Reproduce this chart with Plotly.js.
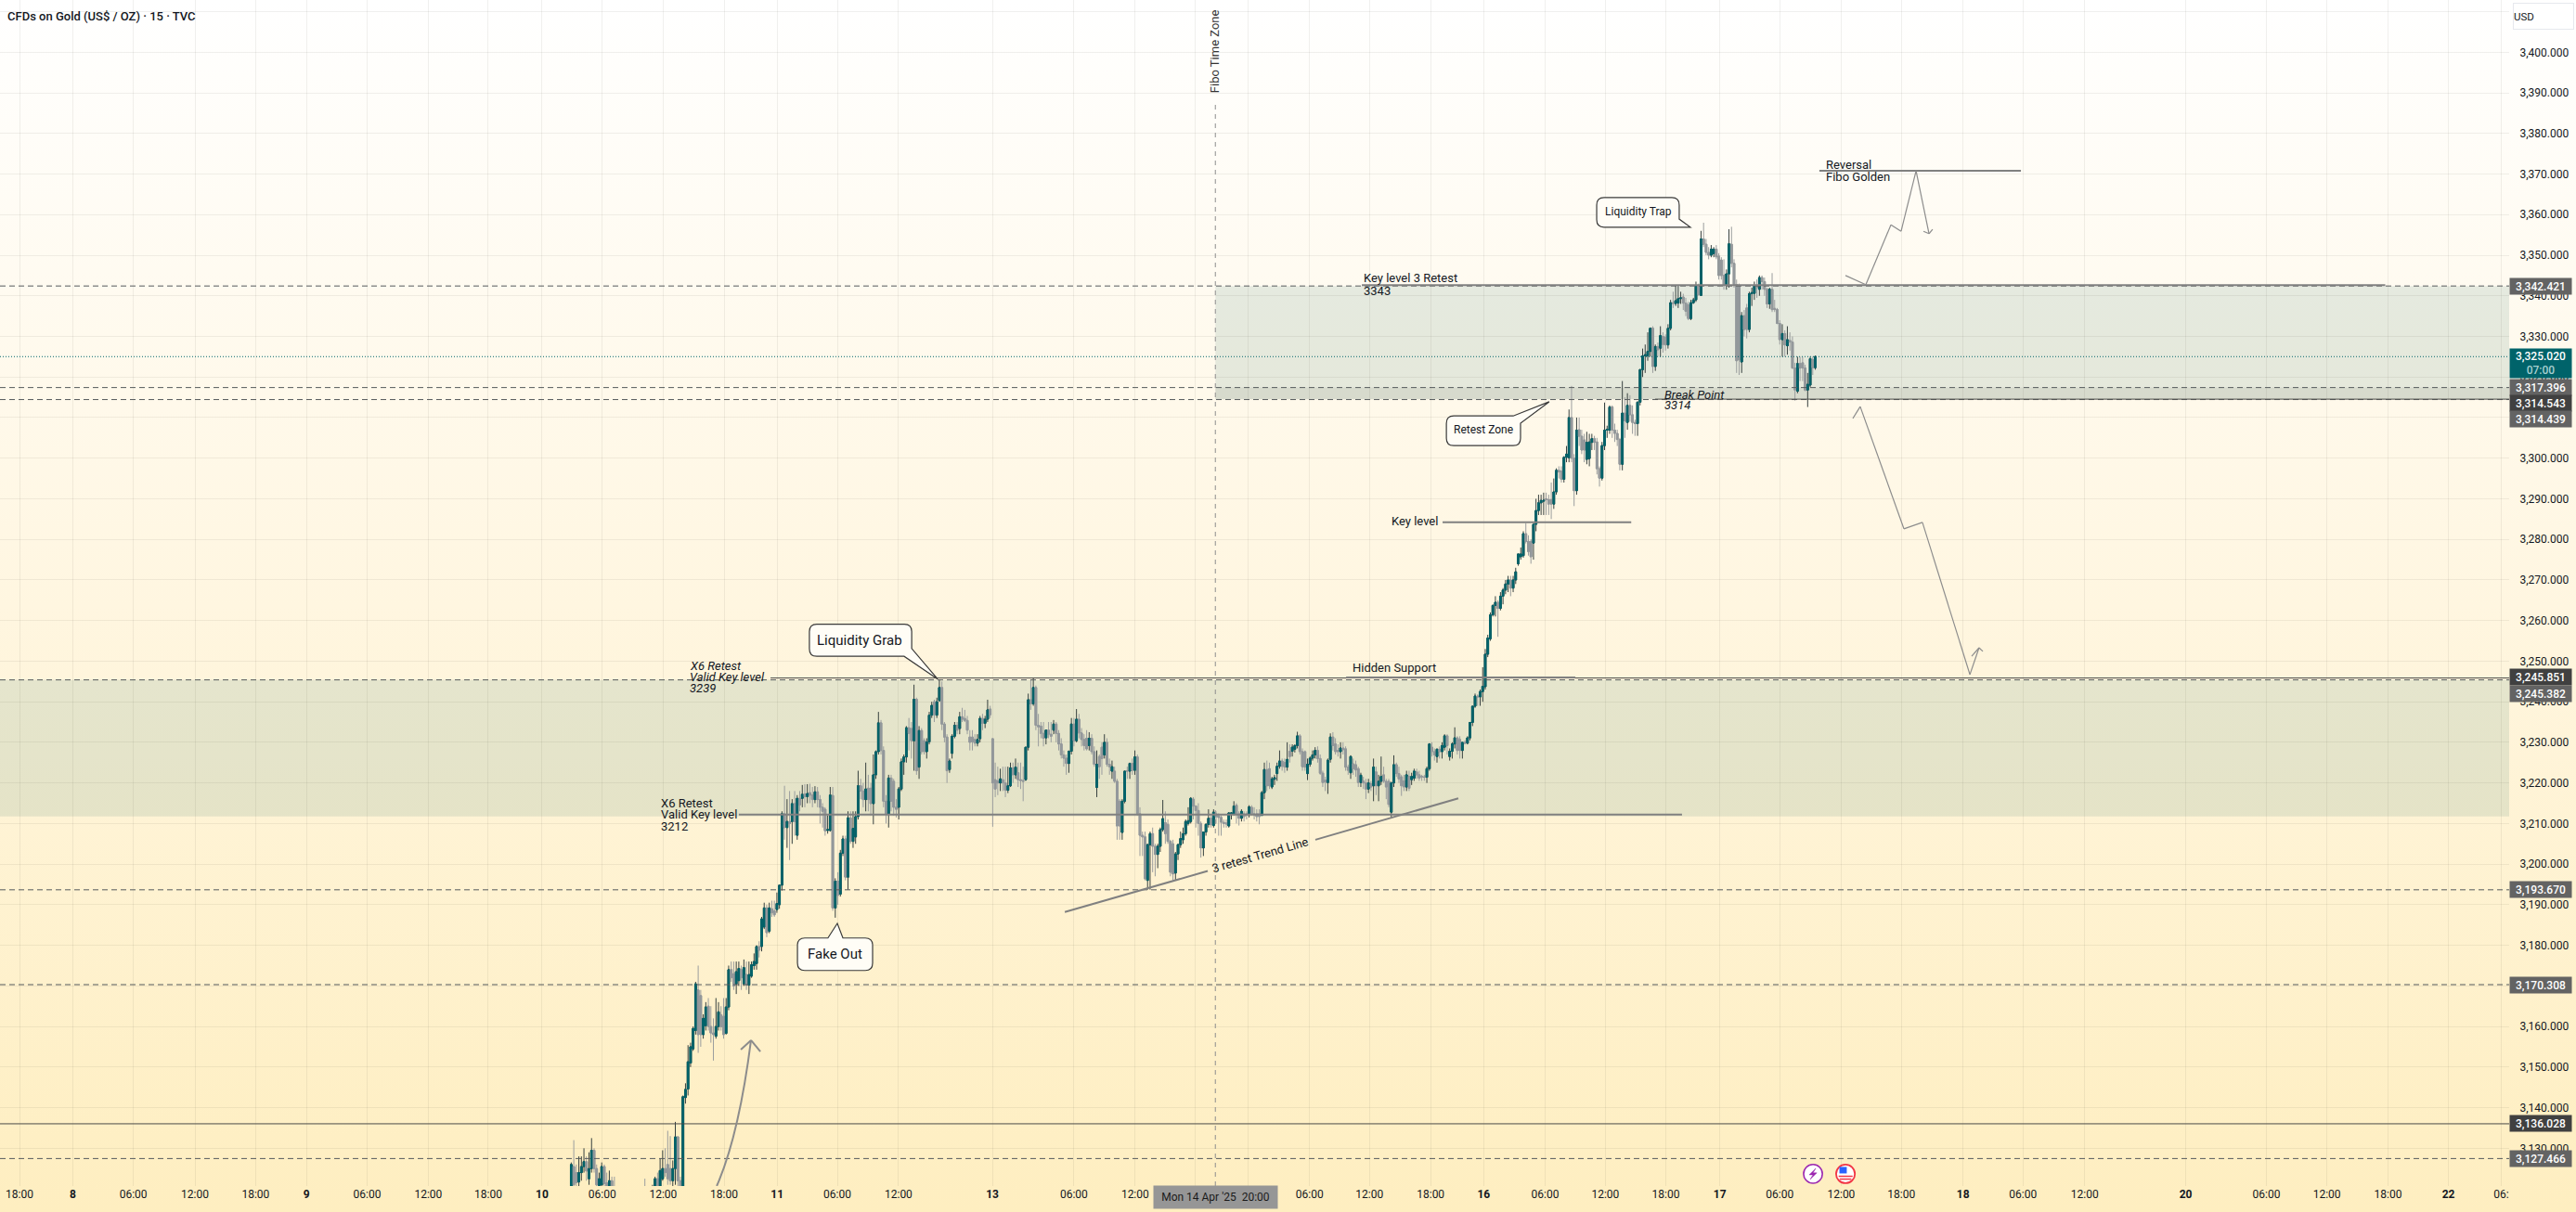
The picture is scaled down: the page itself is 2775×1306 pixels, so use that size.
<!DOCTYPE html>
<html><head><meta charset="utf-8">
<script src="https://cdn.plot.ly/plotly-3.0.1.min.js"></script>
<style>html,body{margin:0;padding:0;width:2775px;height:1306px;overflow:hidden;background:linear-gradient(180deg,#ffffff 0%,#fff6e0 50%,#feeec0 100%);}</style>
</head><body><div id="chart" style="width:2775px;height:1306px"></div>
<script>
// ---- candles: rows are [open, high, low, close]; x is the 15-minute bar number
const apr10Start = 225;
const apr10 = [[3119,3126.5,3118,3126],[3125.5,3132,3120,3121],[3124,3126,3119,3121.5],[3121.7,3128,3120,3124],[3124,3128,3122,3125.5],[3125.5,3130,3124,3126.7],[3126.7,3128,3122,3124.4],[3122.5,3129,3121,3125],[3125,3132.5,3124,3129.5],[3129.5,3130,3124,3125],[3125,3126,3120,3121],[3120,3124,3119,3122.5],[3121,3126.5,3120,3125.5],[3125.5,3126,3120,3121.3],[3121.5,3124,3119,3120],[3119.5,3124.5,3118,3122],[3122,3123,3118,3119.5],[3120,3123,3117,3118]];
const apr10NoonStart = 254;
const apr10Noon = [[3120,3122.5,3118,3119],[3120,3120.5,3118,3119],[3120,3120.5,3118,3119],[3119,3121,3118,3120.3],[3120,3123,3119,3122.5],[3122.5,3124,3119,3120],[3120,3127.5,3119,3124.5],[3122.5,3129.5,3122,3125],[3125,3130,3123,3124],[3126,3134.3,3121,3122.5],[3125,3133,3121,3122],[3122,3127,3120,3125],[3125,3136.5,3121,3132.8],[3132.8,3133,3120,3122],[3122,3123,3117,3119]];
const apr10RallyStart = 269;
const apr10Rally = [[3118,3143,3117,3142.7],[3142.5,3146,3141,3144.5],[3144.6,3155.4,3143,3151.3],[3151,3156,3150,3155],[3154.5,3160,3154,3159.5],[3159,3171,3158,3170.5],[3169,3175,3153.5,3158],[3167.6,3169,3155,3158],[3158,3163,3157,3162],[3160.2,3166,3159,3164.8],[3165,3167,3159,3160],[3160,3165,3156,3158.4],[3158.4,3162,3151.6,3158],[3157.6,3167,3157,3160],[3160,3166,3159,3163.6],[3162.9,3165,3159,3159.9],[3162.5,3167,3157,3158],[3158.3,3167,3158,3164.8]];
const apr10LateStart = 287;
const apr10Late = [[3164.8,3175,3164,3174],[3174,3176,3171,3172],[3173,3176,3169,3170],[3170.5,3176,3168,3173.5],[3171.3,3176,3170,3174.3],[3174,3175,3169,3172],[3170.5,3176.5,3170,3174.5],[3172.8,3176,3169,3170.2],[3170.2,3176,3168,3172.8],[3172.4,3176,3172,3175.2],[3175,3178,3174,3176],[3175.5,3180,3174,3179.7],[3179.7,3181,3177,3178.8],[3179.7,3187,3178.5,3186.5],[3184.5,3190.5,3184,3189.2],[3189.2,3190,3182,3183.1],[3183.5,3190.5,3183,3189.2],[3189,3191,3187,3188],[3188.5,3191,3187,3187.5],[3188.8,3193,3188,3190.3],[3190,3195,3189,3194.8]];
const apr11AStart = 308;
const apr11A = [[3194.8,3213,3193.5,3212.4],[3212.4,3219.3,3206,3209],[3209,3216,3204,3210.5],[3210.5,3218,3201,3210],[3210.5,3216,3205,3214.9],[3214.9,3218,3207,3210.5],[3207.1,3217,3206,3216.2],[3216.2,3218,3213,3214.6],[3216.2,3219.5,3214,3217.2],[3217.3,3219.7,3214,3216.6],[3216.6,3219.7,3215,3217.4],[3217.6,3219.8,3215,3217],[3217,3219,3214,3215.9],[3215.9,3219.2,3215,3217.8],[3217.8,3219,3214,3215.9],[3215.9,3217,3210,3214],[3214,3215,3209,3213],[3213.5,3214,3207,3208.2],[3208.3,3212,3207.5,3208.5]];
const apr11BStart = 327;
const apr11B = [[3208.3,3219,3208,3217],[3216.9,3219,3188.5,3189.2],[3189.2,3196.5,3186.8,3195.8],[3195.8,3198,3190,3192.3],[3192.6,3203.5,3192,3202.7],[3202.7,3207,3202,3206.2],[3206.2,3207,3196,3196.8],[3196.8,3213,3193.7,3211.4],[3211.4,3213,3205,3205.6],[3205.6,3213,3204,3208.8],[3206.7,3213,3205,3211.7],[3211.7,3223,3211,3219.3],[3219.3,3221,3216,3218],[3218,3220,3214,3215.9],[3215.9,3225,3213,3218.5],[3218.7,3222,3213,3215.9],[3218.7,3220,3212,3214.9],[3214.9,3227,3209.8,3222],[3222,3228,3221,3227.7],[3227.7,3237.5,3227,3234.8],[3234.8,3235.5,3227,3228],[3228,3229,3214,3215.5],[3215.5,3217,3210,3212.4],[3212.4,3222,3209,3221.2],[3221.2,3222,3213,3215.5],[3220.4,3221,3212,3214],[3214,3216,3211.5,3213.5],[3214,3219,3211,3218.5],[3218.5,3226,3218,3225.2],[3225.2,3227,3222,3226.4],[3226.4,3234,3225,3233.6],[3233.6,3236,3228,3232.2],[3233.4,3235,3226,3230.4]];
const apr11CStart = 360;
const apr11C = [[3230.4,3244.2,3223,3240.6],[3240.6,3241,3222,3223],[3223.9,3234,3221,3232.9],[3232.9,3233.5,3227,3227.7],[3230.4,3231,3227,3227.7],[3227.7,3231,3226,3230.1],[3230.1,3237.5,3229.5,3236.7],[3236.7,3240,3236,3239.1],[3240,3240.5,3235,3236.8],[3236.7,3241,3236,3240],[3240.3,3245.5,3240,3243.5],[3243.5,3245,3233,3234.5],[3234.5,3235,3230,3231.3],[3231.3,3232,3220,3223],[3223.3,3226,3222.5,3225.4],[3227.3,3232,3226,3231.5],[3231.5,3235,3231,3234.2],[3234.2,3235,3232,3233],[3233.4,3237.5,3232,3236.3],[3236.3,3238.5,3235,3235.7],[3235.9,3238,3235,3235.4],[3235.4,3236.5,3232,3233],[3231.3,3233,3228,3230],[3231.3,3233,3228,3230.1],[3230.7,3232,3229,3229.8],[3229.8,3232,3229,3230.7],[3230.9,3236.5,3230,3235.9],[3235.9,3237,3233,3234.7],[3234.7,3236.5,3233.5,3235.7],[3235.7,3240.5,3235,3238],[3238.2,3239,3236,3236.8]];
const apr13AStart = 391;
const apr13A = [[3230.9,3231,3209.2,3220],[3220.8,3225,3216.5,3218.5],[3220.5,3224,3217,3220],[3220,3223.5,3218,3221],[3220.8,3224,3218,3220],[3220,3224,3216.5,3218.2],[3218.2,3224,3217.5,3219.3],[3219.3,3225,3219,3223.7],[3223.7,3225,3220,3222],[3222,3226,3221,3223.9],[3222.5,3225,3219,3220.8],[3220.8,3225,3218.5,3220.6],[3220.6,3224,3215.5,3220.4],[3220.8,3228.8,3220.5,3228.8]];
const apr13BStart = 405;
const apr13B = [[3228.8,3242,3228,3240.5],[3240.5,3245.5,3238,3239.5],[3239.5,3245.9,3239,3243.5],[3243.5,3244,3233,3234.2],[3234.2,3237,3229,3233.8],[3234,3235,3231,3232.2],[3232.2,3235,3229,3231],[3231.1,3233,3229.5,3233],[3233,3235,3231,3232],[3232,3235,3230,3231.5],[3233,3235.5,3232,3234.5],[3234.5,3235,3230,3232.2],[3232.2,3233,3228,3229.6],[3229.6,3231,3226,3226.9],[3226.9,3228,3224,3226.1],[3226.1,3227,3222,3224.8],[3224.8,3228,3222.5,3227.8]];
const apr13CStart = 422;
const apr13C = [[3227.8,3236,3227,3234.5],[3234.5,3236,3229,3230.4],[3230.4,3238.2,3230,3235.7],[3235.7,3237,3231,3232.3],[3232.3,3233.5,3229,3230.7],[3230.7,3232,3228,3229.2],[3231,3233,3228,3228.4],[3229.2,3232.5,3228,3231],[3231,3232,3227,3227.7],[3227.7,3229,3224,3224.6],[3218.9,3228,3216.5,3224.6],[3226.5,3227,3221,3224],[3228.8,3230,3222,3226],[3226.9,3232,3226,3230],[3230,3231,3224,3224.6],[3224.6,3226,3222,3224],[3222.9,3225.5,3221,3224],[3222.9,3224,3220,3220.4],[3220.4,3221,3206,3209.4],[3215.5,3216,3206,3209.4],[3207.8,3216,3206,3215.5],[3215.5,3223,3215,3222.9],[3223,3224,3221,3222.9],[3222.9,3225,3221,3224.8],[3224.8,3226,3222,3223.1],[3223.1,3228,3222,3226.4]];
const apr13DStart = 448;
const apr13D = [[3226.4,3227,3212,3212.4],[3212.4,3214,3202,3207.1],[3207.1,3208,3202,3206.7],[3206.7,3208,3196,3196.4]];
const apr14Start = 452;
const apr14 = [[3196,3205,3193.7,3204.8],[3204.8,3208,3193.7,3207.5],[3207.5,3209,3198,3204.4],[3204.4,3205,3197,3202.4],[3202.4,3205,3199,3204.4],[3204.4,3209,3203,3208.5],[3208.5,3215.8,3208,3211.2],[3210.2,3213,3205,3207.5],[3209.8,3211,3205,3205.6],[3205.6,3206,3197,3198],[3205,3206,3196,3197.6],[3197.8,3203,3196,3202.5],[3202.5,3205,3201,3204.8],[3204.8,3208,3204,3206.3],[3206,3209,3205,3207.5],[3207.5,3211,3207,3210.5],[3210,3214,3209.5,3210.7],[3210.5,3216.5,3210,3216.2],[3216,3216.5,3211,3214.3],[3214.3,3214.5,3209,3213.2],[3213.2,3215,3207,3210],[3210,3210.5,3201.6,3204],[3204,3208,3202,3207.9],[3207.9,3210,3207,3209.8],[3209.8,3213.5,3209,3211.3],[3211.3,3212,3209,3209.7],[3209.5,3213.5,3209,3212.8],[3212.4,3213,3210,3211.7],[3211.9,3212.5,3207,3211.5],[3211.5,3212,3207,3210.3],[3210.3,3211,3209,3210],[3210.1,3211,3209,3209.9],[3209.4,3212.8,3209,3212.6],[3212.4,3212.8,3211,3212.6],[3212.4,3215.5,3212,3214.3],[3214.5,3215,3210,3212.4],[3212.4,3213,3209.5,3211.3],[3211.3,3213.5,3210.5,3213],[3212.4,3213,3210.5,3211.7],[3212.4,3213,3211,3212.2],[3212.2,3214.5,3211.5,3214.1],[3214,3214.5,3212,3212.4],[3212.4,3214,3211,3212.2],[3212.4,3213.5,3210.5,3211.7],[3212.4,3213.5,3209.8,3211.7],[3212,3218,3212,3217.6],[3217.6,3225,3216,3223.3],[3223.3,3225.5,3218,3219.3],[3223.5,3225,3218.5,3219.3],[3219,3221.5,3218.5,3221],[3220.9,3222,3219.5,3221.3],[3222.3,3225,3220.5,3224.1],[3224.1,3228,3223.5,3225.4],[3225.4,3226,3223,3224.1],[3225,3226,3222.5,3223.9],[3223.9,3230,3223,3225.8],[3227.8,3229.5,3225,3226.5],[3227.8,3229.5,3226.5,3228.8],[3228.3,3229.5,3227.5,3229.2],[3229.2,3232.6,3228.5,3231.6],[3231.6,3232,3227,3227.7],[3227.7,3228.5,3223,3224],[3227.7,3228,3223,3223.9],[3222.3,3226,3220.7,3224.6],[3224.6,3226.5,3224,3226.1],[3226.1,3228,3225.5,3226.9],[3226.9,3228.8,3226,3228],[3228,3229,3225,3226],[3226,3227,3222,3222.4],[3222.4,3223,3219,3220.1],[3220.7,3221.5,3218,3220.2],[3220.1,3226,3217.3,3225.6],[3225.8,3232.2,3225,3231.3],[3231.3,3232.5,3228,3229.2],[3229.6,3231,3227,3227.7],[3228,3229.5,3226.5,3227.7],[3227.7,3230,3226,3228.6],[3228.6,3230,3227,3228.2],[3228.4,3229,3223,3223.9],[3223.9,3224.5,3222,3223.1],[3222.5,3226.8,3221,3226.5],[3224.7,3226,3222,3223.5],[3224.5,3225.5,3221.5,3223.2],[3223.5,3224,3219,3220.1],[3220.1,3222.5,3219,3221.9],[3220.5,3221.5,3218.5,3220],[3220,3221,3216,3218.5],[3218.5,3221,3217.5,3220],[3219.8,3220.5,3218,3219],[3219.3,3226,3215.5,3223.9],[3222.7,3224,3217,3219.3],[3219.3,3222,3215.5,3220.4],[3220.4,3226.5,3219.5,3221.6],[3222,3224,3220,3220.4],[3220.4,3221,3216,3219],[3220.4,3221,3214,3214.7],[3212.8,3220.3,3211.5,3220],[3220,3226.8,3219,3224.5],[3224.5,3225,3221.5,3222.3],[3222.3,3224,3220,3221],[3221.5,3222,3216.8,3219.3],[3220.5,3222,3218,3219],[3219,3223,3218,3222],[3221.6,3223,3218,3218.7],[3220.8,3222.5,3219.5,3221.6],[3221.2,3223.5,3220.5,3222.9],[3222.7,3223.5,3221,3222],[3222,3223,3220.5,3221.2],[3221.6,3222,3220.5,3221.5],[3221.5,3222,3220.5,3221.4],[3221.4,3224,3220,3223.5],[3223.5,3229.8,3223,3229.6],[3228.8,3230,3226.5,3227.7],[3227.7,3228.5,3225.5,3226.9],[3226.5,3228.5,3225,3228.3],[3228.3,3229,3226,3227.7],[3227.7,3230,3226,3229.2],[3228.8,3232,3228,3231.6],[3231.6,3232,3227,3229.2],[3226.5,3228.5,3225.5,3227.8],[3227.8,3230,3226,3229.6],[3229.6,3233.7,3228.5,3231.1],[3231.1,3231.5,3227,3228],[3230.7,3231.5,3226,3228],[3228,3230,3226,3230],[3230,3230.5,3229.5,3229.8],[3229.8,3231.5,3229.5,3231.1],[3231.1,3235,3230.5,3234.9],[3234.9,3239,3234,3238.9],[3238.9,3242,3238.5,3241.4],[3241.4,3241.8,3239,3241.2],[3241.2,3243,3239,3242.5],[3242.5,3248.5,3240,3243.8],[3243.7,3253,3243,3251.7],[3251.7,3256.5,3251,3255.7],[3255.5,3262,3255,3261.4],[3261.4,3264,3261,3263.7]];
const apr15AStart = 589;
const apr15A = [[3263.7,3266,3261,3264.5],[3264.5,3265,3256,3263],[3263,3267,3262.5,3266],[3266,3268,3264,3267.5],[3267.5,3270,3266.5,3269],[3269,3271,3267,3270],[3270,3271,3266,3268],[3268,3271,3267,3270],[3270,3273,3269,3272]];
const apr15BStart = 598;
const apr15B = [[3274,3276.5,3273.5,3276.4],[3275.7,3278,3275,3276.4],[3276,3282,3275.5,3281.4],[3281.4,3284,3279,3279.5],[3279.5,3281,3276,3277],[3279.5,3280,3274,3275.7],[3279.1,3284,3275,3283.7],[3283.7,3290,3282,3287.1],[3287.1,3291,3286,3289],[3289,3291,3286,3289.6],[3289.4,3291.5,3286,3289.6],[3290,3291.5,3286,3289.8],[3289.8,3291,3286,3288.7],[3289.8,3294,3285,3288.7],[3288.7,3295,3287.5,3291.7],[3291.7,3297.5,3291,3297],[3297,3298,3295,3296.6],[3296.8,3298,3294,3294.8],[3294.8,3300.5,3294,3300.2],[3300.2,3303,3299,3301],[3300.1,3312,3299,3310],[3310,3317.8,3299,3300],[3300,3301,3288.2,3292],[3292,3310,3291,3306.9],[3307,3310,3303,3305.4],[3305.4,3307,3301,3302],[3304.5,3306,3299,3302],[3299.7,3306.5,3298.5,3303.9],[3299.9,3306,3298,3304],[3303.9,3306,3302,3304.8],[3304.8,3305.5,3302,3303.9],[3304,3305,3296,3297.4],[3297.4,3298,3293,3295.1],[3295.1,3304,3294.5,3303.1],[3303.1,3313.7,3302,3306.9],[3306.9,3308,3305,3307.1]];
const apr16AStart = 634;
const apr16A = [[3306.9,3313,3306,3312.6],[3312.6,3313,3305,3306.9],[3306.9,3308.5,3304,3306.1],[3306.1,3307,3303,3304.6],[3304.6,3305,3297,3298.5],[3298.5,3319,3297,3311.1],[3311.1,3315,3305,3309.2],[3308.8,3316,3307,3313],[3313,3315.5,3309,3310.7],[3310.7,3313,3306,3308.8],[3308.8,3309.5,3305.5,3308.5],[3308.5,3314,3305.5,3313.8],[3313.8,3322,3313,3321.8],[3321.8,3327,3320,3325.2],[3325.2,3328,3321,3325.5],[3325.2,3331,3324,3326.3],[3326.3,3332.2,3325,3332],[3332,3332.5,3321,3322.6],[3322.6,3328,3321.5,3327.5],[3327.5,3328.5,3325,3326.7],[3327.1,3332.5,3325,3330.2],[3330,3331,3326,3328],[3329.8,3330.5,3326.5,3327.9],[3327.9,3333,3327,3332],[3332,3339,3331.5,3338.3],[3338.3,3341,3337,3338.1],[3338.1,3342.5,3337.5,3338.8],[3338.2,3342.6,3337,3339.3],[3339.3,3341,3338,3339.5],[3339.7,3340.5,3336.5,3338.2],[3338.2,3339.5,3335,3336.2],[3337.8,3338.5,3334,3334.4],[3334.4,3339,3334,3338.3],[3338.3,3339.5,3338,3339],[3339,3343.5,3338.5,3342.4],[3342.6,3343,3340,3340.3],[3340.1,3356,3340,3354],[3354,3358,3352,3352.7],[3352.7,3354,3350,3350.7],[3350.7,3352,3349,3350],[3350,3352.5,3349.5,3351.5],[3350.4,3352,3349.5,3351.5],[3351.5,3352.5,3349,3349.6],[3349.8,3350.5,3344,3345],[3348.8,3349.5,3344,3345],[3345,3349,3341.5,3342.6],[3342.7,3346.5,3341.5,3345.4],[3345.4,3356.4,3342,3352.8],[3352.7,3357,3347,3348],[3348,3349,3342,3342.8]];
const apr16BStart = 684;
const apr16B = [[3342.8,3344,3321,3324],[3342.5,3343,3320.5,3324.2],[3323.7,3336,3321,3335.1],[3335.1,3336.5,3330,3331.7],[3337,3338,3329.5,3331.7],[3331.7,3341,3331,3340.5],[3340.5,3342,3337.5,3340.8],[3340.6,3343.5,3339,3342.4],[3342.6,3344,3339.5,3342],[3341.6,3345,3340,3344.5],[3344.5,3345,3341.5,3343.5],[3343.5,3344.5,3340,3341.6],[3341.6,3342,3337,3338],[3338,3342,3336.8,3341.6],[3341.6,3345.6,3336,3336.6],[3336.9,3339,3336,3336.6],[3336.6,3337,3333,3333.2],[3333.2,3334,3328,3329.2],[3329.2,3333,3325,3330.7],[3330.7,3331.5,3325,3327.9],[3327.7,3332.5,3325.5,3329.2],[3329,3331,3326.5,3328.6],[3328.6,3330,3322,3322.2],[3322.2,3323.5,3314.2,3316.8],[3316.5,3325,3316,3323.3],[3323.3,3325,3319,3322.2],[3323.5,3325,3319,3322.2],[3322.2,3323,3316.5,3316.8],[3316.8,3321,3312.6,3318.2],[3318,3325,3317.5,3324.5],[3324.3,3325,3320.5,3322.3],[3322.3,3325.3,3321.8,3325.02]];

// ---- axes
const priceTicks = [3130,3140,3150,3160,3170,3180,3190,3200,3210,3220,3230,3240,3250,3260,3270,3280,3290,3300,3310,3320,3330,3340,3350,3360,3370,3380,3390,3400,3410];
const priceTickLabels = ['3,130.000','3,140.000','3,150.000','3,160.000','3,170.000','3,180.000','3,190.000','3,200.000','3,210.000','3,220.000','3,230.000','3,240.000','3,250.000','3,260.000','3,270.000','3,280.000','3,290.000','3,300.000','','3,320.000','3,330.000','3,340.000','3,350.000','3,360.000','3,370.000','3,380.000','3,390.000','3,400.000',''];
const timeTickBars = [7.7,28.7,52.5,76.8,100.7,120.7,144.6,168.7,192.3,213.5,237.2,261.2,285.2,306.1,329.8,353.9,390.9,423,447.1,470.7,491.7,515.8,539.4,563.5,584.4,608.6,632.3,656.1,677.4,701,725.2,748.9,773.2,796.8,821.1,860.9,892.7,916.5,940.6,964.4,985.2];
const timeTickLabels = ['18:00','<b>8</b>','06:00','12:00','18:00','<b>9</b>','06:00','12:00','18:00','<b>10</b>','06:00','12:00','18:00','<b>11</b>','06:00','12:00','<b>13</b>','06:00','12:00','','','06:00','12:00','18:00','<b>16</b>','06:00','12:00','18:00','<b>17</b>','06:00','12:00','18:00','<b>18</b>','06:00','12:00','<b>20</b>','06:00','12:00','18:00','<b>22</b>','06:'];

// ---- price levels
const dashedLevels = [3342.421,3317.396,3314.439,3245.382,3193.670,3170.308,3127.466];
const lastPrice = 3325.020;
const solidLevels = [[3136.028,0],[3314.543,651.9],[3245.851,303.5]];      // price, first bar
const keyLevels = [[3342.6,536.4,939.5],[3212.2,291,662.5],[3284.2,568.2,642.5],[3246,530.2,620.5],[3370.8,716.6,796]]; // price, first bar, last bar
const trendSegments = [[419.4,3188.2,475.7,3198.3],[518.1,3206,574.4,3216.2]];
const upPathBars = [726.9,734.9,744.8,748.8,754.7,759.8];
const upPathPrices = [3345,3342.75,3357.5,3355.9,3370.8,3355.3];
const upHeadBars = [757.6,759.8,761.2];
const upHeadPrices = [3355.9,3355.3,3356.4];
const downPathBars = [729.8,732.7,749.9,757.2,775.9,779.5];
const downPathPrices = [3309.8,3312.7,3282.6,3284.2,3246.7,3253.3];
const downHeadBars = [776.6,779.5,781];
const downHeadPrices = [3251.2,3253.3,3252.4];
const rallyHeadBars = [291.8,295.8,299.5];
const rallyHeadPrices = [3154.3,3156.6,3153.8];
const timeZoneBar = 478.7;
const barEnd = 988.3, priceLow = 3120.7, priceHigh = 3412.87;

const segments = [[apr10Start,apr10],[apr10NoonStart,apr10Noon],[apr10RallyStart,apr10Rally],[apr10LateStart,apr10Late],[apr11AStart,apr11A],[apr11BStart,apr11B],[apr11CStart,apr11C],[apr13AStart,apr13A],[apr13BStart,apr13B],[apr13CStart,apr13C],[apr13DStart,apr13D],[apr14Start,apr14],[apr15AStart,apr15A],[apr15BStart,apr15B],[apr16AStart,apr16A],[apr16BStart,apr16B]];
const xs=[],o=[],h=[],l=[],c=[];
segments.forEach(([s,rows])=>rows.forEach((r,i)=>{xs.push(s+i);o.push(r[0]);h.push(Math.max(r[0],r[1],r[3]));l.push(Math.min(r[0],r[2],r[3]));c.push(r[3]);}));

const TEAL='#00636a', GREY='#93989b', FONT='Roboto, sans-serif', INK='#131722', KEY='#808080';
const wicks={type:'candlestick',x:xs,open:o,high:h,low:l,close:c,hoverinfo:'skip',showlegend:false,
  increasing:{line:{color:'#37403f',width:1},fillcolor:'#37403f'},decreasing:{line:{color:'#9a9d9e',width:1},fillcolor:'#9a9d9e'}};
const bodies={type:'candlestick',x:xs,open:o,close:c,high:o.map((v,i)=>Math.max(v,c[i])),low:o.map((v,i)=>Math.min(v,c[i])),hoverinfo:'skip',showlegend:false,
  increasing:{line:{color:TEAL,width:1},fillcolor:TEAL},decreasing:{line:{color:GREY,width:1},fillcolor:GREY}};

const shapes=[];
const rect=(x0,x1,p0,p1,fill)=>shapes.push({type:'rect',layer:'below',xref:'x',yref:'y',x0,x1,y0:p0,y1:p1,fillcolor:fill,line:{width:0}});
const seg=(x0,p0,x1,p1,color,width,dash)=>shapes.push({type:'line',xref:'x',yref:'y',x0,x1,y0:p0,y1:p1,line:{color,width,dash:dash||'solid'}});
const poly=(xa,pa,color,width)=>{for(let i=0;i+1<xa.length;i++)seg(xa[i],pa[i],xa[i+1],pa[i+1],color,width);};

rect(timeZoneBar,barEnd,3314.5,3342.42,'rgba(0,90,80,0.10)');
rect(timeZoneBar,barEnd,3314.5,3317.4,'rgba(40,40,30,0.07)');
rect(0,barEnd,3211.75,3245.4,'rgba(0,90,80,0.10)');

dashedLevels.forEach(p=>seg(0,p,barEnd,p,'#555a5c',1,'6px,4px'));
seg(0,lastPrice,barEnd,lastPrice,TEAL,1,'1px,2px');
solidLevels.forEach(([p,x0])=>seg(x0,p,barEnd,p,'#4a4a48',1));
keyLevels.forEach(([p,x0,x1])=>seg(x0,p,x1,p,KEY,2));
trendSegments.forEach(t=>seg(t[0],t[1],t[2],t[3],KEY,2));
poly(upPathBars,upPathPrices,'#8c8c8c',1.2);
poly(upHeadBars,upHeadPrices,'#8c8c8c',1.2);
poly(downPathBars,downPathPrices,'#8c8c8c',1.2);
poly(downHeadBars,downHeadPrices,'#8c8c8c',1.2);
poly(rallyHeadBars,rallyHeadPrices,'#8c8c8c',2);
shapes.push({type:'path',xref:'x',yref:'y',path:'M 282.3 3120.7 Q 291 3133 295.8 3156.6',line:{color:'#8c8c8c',width:2}});
seg(timeZoneBar,priceLow,timeZoneBar,3387.7,'#8e8e8e',1,'5px,5px');

// speech-bubble callouts: rounded box with a pointer replacing an edge piece or a corner
function callout(x0,x1,p0,p1,at,pts){
  const rx=2.9, ry=1.83, P=a=>a.map(q=>`L ${q[0]} ${q[1]}`).join(' ');
  let d=`M ${x0+rx} ${p1} `;
  if(at==='top') d+=P(pts)+' ';
  if(at==='tr') d+=P(pts)+' ';
  else d+=`L ${x1-rx} ${p1} Q ${x1} ${p1} ${x1} ${p1-ry} `;
  if(at==='br') d+=P(pts)+' ';
  else d+=`L ${x1} ${p0+ry} Q ${x1} ${p0} ${x1-rx} ${p0} `;
  d+=`L ${x0+rx} ${p0} Q ${x0} ${p0} ${x0} ${p0+ry} L ${x0} ${p1-ry} Q ${x0} ${p1} ${x0+rx} ${p1} Z`;
  shapes.push({type:'path',xref:'x',yref:'y',path:d,fillcolor:'#fffdf6',line:{color:'#3a3a3a',width:1.2}});
}
callout(318.8,359.1,3251.2,3259.1,'br',[[359.1,3253.1],[369.3,3245.6],[356.1,3251.2]]);
callout(314.1,343.7,3173.8,3181.8,'top',[[326.1,3181.8],[329.8,3185.4],[332,3181.8]]);
callout(628.9,661.4,3356.9,3364.2,'br',[[661.4,3358.9],[665.8,3356.9],[660.7,3356.9]]);
callout(569.7,598.9,3303.1,3310.4,'tr',[[596,3310.4],[610.2,3313.9],[598.9,3308.6]]);

// economic-event icons at the foot of the chart
shapes.push({type:'circle',xref:'x',yref:'y',x0:710.4,x1:717.8,y0:3121.4,y1:3126,fillcolor:'#ffffff',line:{color:'#9c27b0',width:1.6}});
shapes.push({type:'path',xref:'x',yref:'y',path:'M 715.2 3125.07 L 712.6 3123.47 L 714.1 3123.47 L 713 3122.33 L 715.6 3123.93 L 714.1 3123.93 Z',fillcolor:'#9c27b0',line:{color:'#9c27b0',width:0.5}});
shapes.push({type:'circle',xref:'x',yref:'y',x0:723.2,x1:730.6,y0:3121.4,y1:3126,fillcolor:'#ffffff',line:{color:'#f23645',width:1.8}});
shapes.push({type:'rect',xref:'x',yref:'y',x0:724.5,x1:727.4,y0:3123.8,y1:3125.4,fillcolor:'#2962ff',line:{width:0}});
seg(724.2,3123.1,729.7,3123.1,'#f23645',1.5);
seg(724.6,3122.4,729.2,3122.4,'#f23645',1.5);

const notes=[];
const note=(text,x,p,o2={})=>notes.push(Object.assign({text,x,y:p,xref:'x',yref:'y',xanchor:'left',yanchor:'middle',showarrow:false,font:{family:FONT,size:13,color:INK}},o2));
const NOTE_I=t=>`<i>${t}</i>`;
[['X6 Retest',3248.8],['Valid Key level',3246],['3239',3243.3]].forEach(([t,p])=>note(NOTE_I(t),270.8,p));
[['X6 Retest',3214.9],['Valid Key level',3212.2],['3212',3209.4]].forEach(([t,p])=>note(t,259.6,p));
[['Key level 3 Retest',3344.5],['3343',3341.3]].forEach(([t,p])=>note(t,536.4,p));
[['Break Point',3315.7],['3314',3313.1]].forEach(([t,p])=>note(NOTE_I(t),654.7,p));
note('Key level',547.3,3284.4);
note('Hidden Support',532,3248.3);
note('3 retest Trend Line',496.2,3202.1,{xanchor:'center',textangle:-16});
note('Reversal',718.5,3372.4);
note('Fibo Golden',718.5,3369.4);
note('Liquidity Grab',338.6,3255.1,{xanchor:'center',font:{family:FONT,size:15,color:INK}});
note('Fake Out',328.9,3177.9,{xanchor:'center',font:{family:FONT,size:15,color:INK}});
note('Liquidity Trap',645.3,3360.7,{xanchor:'center',font:{family:FONT,size:12,color:INK}});
note('Retest Zone',584.3,3307,{xanchor:'center',font:{family:FONT,size:12,color:INK}});
note('Fibo Time Zone',timeZoneBar,3400.3,{xanchor:'center',textangle:-90,font:{family:FONT,size:13,color:'#333'}});

// price tags on the right-hand scale
const tag=(text,p,bg,shift,h2)=>notes.push({text,xref:'paper',x:2737/2703,yref:'y',y:p,xanchor:'center',yanchor:'middle',yshift:shift||0,width:66,height:h2||17,bgcolor:bg,borderpad:0,showarrow:false,font:{family:FONT,size:12,color:'#ffffff',weight:500}});
const TAG='#636363', DARK='#404040';
tag('3,342.421',3342.421,TAG);
tag('3,325.020<br><span style="color:#a8cfd0">07:00</span>',3325.02,TEAL,-7,31);
tag('3,317.396',3317.396,TAG);
tag('3,314.543',3314.543,DARK,-4.4);
tag('3,314.439',3314.439,TAG,-21);
tag('3,245.851',3245.851,DARK,1);
tag('3,245.382',3245.382,TAG,-15);
tag('3,193.670',3193.670,TAG);
tag('3,170.308',3170.308,TAG);
tag('3,136.028',3136.028,DARK);
tag('3,127.466',3127.466,TAG);
notes.push({text:'USD',xref:'paper',x:2707/2703,yref:'y',y:3408.87,xanchor:'left',yanchor:'middle',width:64,height:27,align:'left',bgcolor:'#ffffff',bordercolor:'#e6e8ee',borderwidth:1,borderpad:0,showarrow:false,font:{family:FONT,size:11.5,color:INK}});
notes.push({text:"Mon 14 Apr '25&nbsp;&nbsp;20:00",xref:'x',x:timeZoneBar,yref:'paper',y:-12/1278,xanchor:'center',yanchor:'middle',width:133,height:24,bgcolor:'#969696',borderpad:0,showarrow:false,font:{family:FONT,size:12,color:'#1a1a1a'}});

const GRID='rgba(60,60,40,0.075)';
Plotly.newPlot('chart',[wicks,bodies],{
  width:2775,height:1306,margin:{l:0,r:72,t:0,b:28,pad:0},boxgap:0.05,
  paper_bgcolor:'rgba(0,0,0,0)',plot_bgcolor:'rgba(0,0,0,0)',showlegend:false,dragmode:false,
  title:{text:'CFDs on Gold (US$ / OZ) · 15 · TVC',x:8/2775,xanchor:'left',y:1-17/1306,yanchor:'middle',font:{family:FONT,size:13,color:INK,weight:500}},
  xaxis:{type:'linear',range:[0,barEnd],rangeslider:{visible:false},tickmode:'array',tickvals:timeTickBars,ticktext:timeTickLabels,tickangle:0,ticks:'',showgrid:true,gridcolor:GRID,gridwidth:1,zeroline:false,showline:false,ticklabeloverflow:'allow',tickfont:{family:FONT,size:12,color:INK},fixedrange:true},
  yaxis:{side:'right',type:'linear',range:[priceLow,priceHigh],tickmode:'array',tickvals:priceTicks,ticktext:priceTickLabels,ticks:'outside',ticklen:8,tickcolor:'rgba(0,0,0,0)',showgrid:true,gridcolor:GRID,gridwidth:1,zeroline:false,showline:false,tickfont:{family:FONT,size:12,color:INK},fixedrange:true},
  shapes,annotations:notes
},{displayModeBar:false,responsive:false,staticPlot:true});
</script></body></html>
